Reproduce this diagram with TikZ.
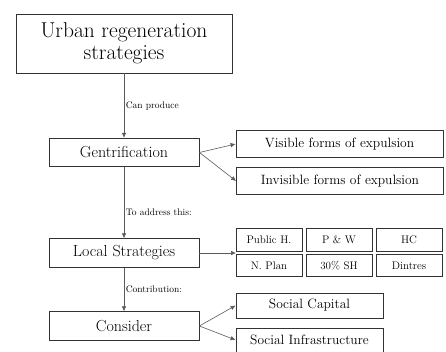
\documentclass[tikz,border=0pt]{standalone}
\usepackage{tikz}
\usetikzlibrary{arrows.meta}
\begin{document}
\begin{tikzpicture}[x=1pt, y=-1pt,
    box/.style ={draw=black!80, line width=0.8pt, inner sep=0pt, align=center},
    bigbox/.style ={box, minimum width=150pt, minimum height=28.5pt, font=\fontsize{16}{18}\selectfont},
    sidebox/.style ={box, minimum width=207pt, minimum height=27pt, font=\fontsize{13.5}{15}\selectfont},
    cell/.style ={box, minimum width=66pt, minimum height=22.5pt, font=\fontsize{11}{12}\selectfont},
    link/.style ={draw=black!65, line width=0.6pt, -{Latex[length=5pt,width=4.5pt]}},
    note/.style ={anchor=west, inner sep=1.5pt, font=\fontsize{9.5}{10}\selectfont}]
   \useasboundingbox (0,0) rectangle (446,352);

   \node[box, minimum width=216pt, minimum height=59pt, font=\fontsize{21.5}{22}\selectfont] (urban) at (124,43.5) {Urban regeneration\\strategies};
   \node[bigbox] (gentri)  at (124,152.5) {Gentrification};
   \node[bigbox] (local)   at (124,253)   {Local Strategies};
   \node[bigbox] (consider) at (124,326)  {Consider};

   \node[sidebox] (visible)   at (339.5,144) {Visible forms of expulsion};
   \node[sidebox] (invisible) at (340,181)   {Invisible forms of expulsion};

   \node[cell] (publich) at (269,240)   {Public H.};
   \node[cell] (pw)      at (339,240)   {P \& W};
   \node[cell] (hc)      at (409,240)   {HC};
   \node[cell] (nplan)   at (269,265.5) {N. Plan};
   \node[cell] (sh)      at (339,265.5) {30\% SH};
   \node[cell] (dintres) at (409,265.5) {Dintres};
   \coordinate (grid) at (236,253);

   \node[box, minimum width=147pt, minimum height=25pt, font=\fontsize{13.5}{15}\selectfont] (capital) at (309.5,305.5) {Social Capital};
   \node[box, minimum width=147pt, minimum height=24pt, font=\fontsize{13.5}{15}\selectfont] (infra)   at (309.5,340)   {Social Infrastructure};

   \draw[link] (urban) to node[note] {Can produce} (gentri);
   \draw[link] (gentri) to node[note, pos=0.63] {To address this:} (local);
   \draw[link] (local) to node[note] {Contribution:} (consider);

   \draw[link] (gentri.east) to (visible.west);
   \draw[link] (gentri.east) to (invisible.west);
   \draw[link] (local.east) to (grid);
   \draw[link] (consider.east) to (capital.west);
   \draw[link] (consider.east) to (infra.west);
\end{tikzpicture}
\end{document}
